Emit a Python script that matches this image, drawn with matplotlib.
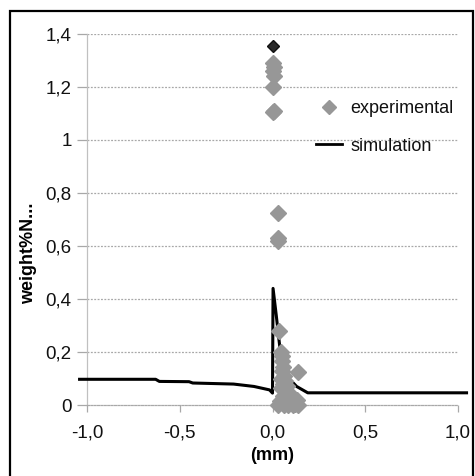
import matplotlib
matplotlib.use("Agg")
import matplotlib.pyplot as plt
from matplotlib.patches import Rectangle
from matplotlib.lines import Line2D

plt.rcParams['font.family'] = ['Liberation Sans', 'DejaVu Sans']

# Simulated profile (distance in mm, weight % N)
sim_x = [-1.04, -0.63, -0.61, -0.45, -0.43, -0.21, -0.10, -0.016, 0.0, 0.003,
         0.02, 0.04, 0.075, 0.13, 0.19, 1.046]
sim_y = [0.097, 0.097, 0.089, 0.088, 0.083, 0.079, 0.070, 0.057, 0.045, 0.44,
         0.34, 0.215, 0.11, 0.07, 0.046, 0.046]

# Measured points
exp_x = [0.005, 0.01, 0.005, 0.008, 0.0, 0.01, 0.005, 0.03, 0.03, 0.032,
         0.035, 0.045, 0.05, 0.05, 0.055, 0.05, 0.135, 0.06, 0.045, 0.07,
         0.055, 0.08, 0.045, 0.065, 0.09, 0.055, 0.075, 0.10, 0.04, 0.065,
         0.12, 0.03, 0.085, 0.11, 0.135, 0.06, 0.13]
exp_y = [1.29, 1.275, 1.26, 1.24, 1.20, 1.11, 1.105, 0.725, 0.63, 0.62,
         0.28, 0.20, 0.185, 0.165, 0.145, 0.13, 0.125, 0.11, 0.10, 0.09,
         0.08, 0.07, 0.065, 0.055, 0.045, 0.035, 0.03, 0.02, 0.015, 0.01,
         0.005, 0.0, 0.0, 0.0, 0.0, 0.0, 0.02]

# Single darker measurement at the top
top_x = [0.0]
top_y = [1.355]

x_ticks = [-1.0, -0.5, 0.0, 0.5, 1.0]
x_labels = ['-1,0', '-0,5', '0,0', '0,5', '1,0']
y_ticks = [0, 0.2, 0.4, 0.6, 0.8, 1.0, 1.2, 1.4]
y_labels = ['0', '0,2', '0,4', '0,6', '0,8', '1', '1,2', '1,4']

W, H = 475, 476
fig = plt.figure(figsize=(W / 100, H / 100), dpi=100)
ax = fig.add_axes([87 / W, 71 / H, 371 / W, 371 / H])
ax.set_xlim(-1.0, 1.0)
ax.set_ylim(0, 1.4)

grid_c = '#a8a8a8'
for yv in y_ticks[1:]:
    ax.axhline(yv, color=grid_c, lw=0.9, ls=(0, (1.5, 1.2)), zorder=0)

for s in ['top', 'right']:
    ax.spines[s].set_visible(False)
ax.spines['left'].set_color('#c0c0c0')
ax.spines['left'].set_linewidth(0.9)
ax.spines['bottom'].set_color(grid_c)
ax.spines['bottom'].set_linewidth(0.9)
ax.spines['bottom'].set_linestyle((0, (1.5, 1.2)))

ax.set_xticks(x_ticks)
ax.set_xticklabels(x_labels)
ax.set_yticks(y_ticks)
ax.set_yticklabels(y_labels)
ax.tick_params(axis='x', direction='out', length=5, width=0.9, color=grid_c,
               labelsize=13.5, pad=9, labelcolor='#111111')
ax.tick_params(axis='y', direction='out', length=7, width=0.9, color=grid_c,
               labelsize=13.5, pad=4, labelcolor='#111111')

ax.plot(sim_x, sim_y, color='black', lw=2.2, clip_on=False, zorder=3,
        label='simulation')
ax.plot(exp_x, exp_y, ls='none', marker='D', ms=8, color='#979797',
        mec='#979797', clip_on=False, zorder=4, label='experimental')
ax.plot(top_x, top_y, ls='none', marker='D', ms=6.5, color='#2a2a2a',
        mec='#111111', clip_on=False, zorder=5)

handles = [
    Line2D([], [], ls='none', marker='D', ms=7.5, color='#979797'),
    Line2D([], [], color='black', lw=2.0),
]
leg = ax.legend(handles, ['experimental', 'simulation'], frameon=False,
                loc='upper left', bbox_to_anchor=(316 / W, 1 - 100 / H),
                bbox_transform=fig.transFigure, fontsize=13,
                handlelength=1.45, handletextpad=0.45, labelspacing=1.15,
                borderpad=0, borderaxespad=0)
for t in leg.get_texts():
    t.set_color('#111111')

ax.set_ylabel('weight%N...', fontsize=13, fontweight='bold')
ax.yaxis.set_label_coords(-0.135, 0.41)
ax.set_xlabel('(mm)', fontsize=13, fontweight='bold', labelpad=4)

fig.patches.append(Rectangle((10 / W, -0.02), 463 / W, 1 - 11 / H + 0.02,
                             transform=fig.transFigure, fill=False,
                             edgecolor='black', lw=1.6))

fig.savefig('out.png', dpi=100)
